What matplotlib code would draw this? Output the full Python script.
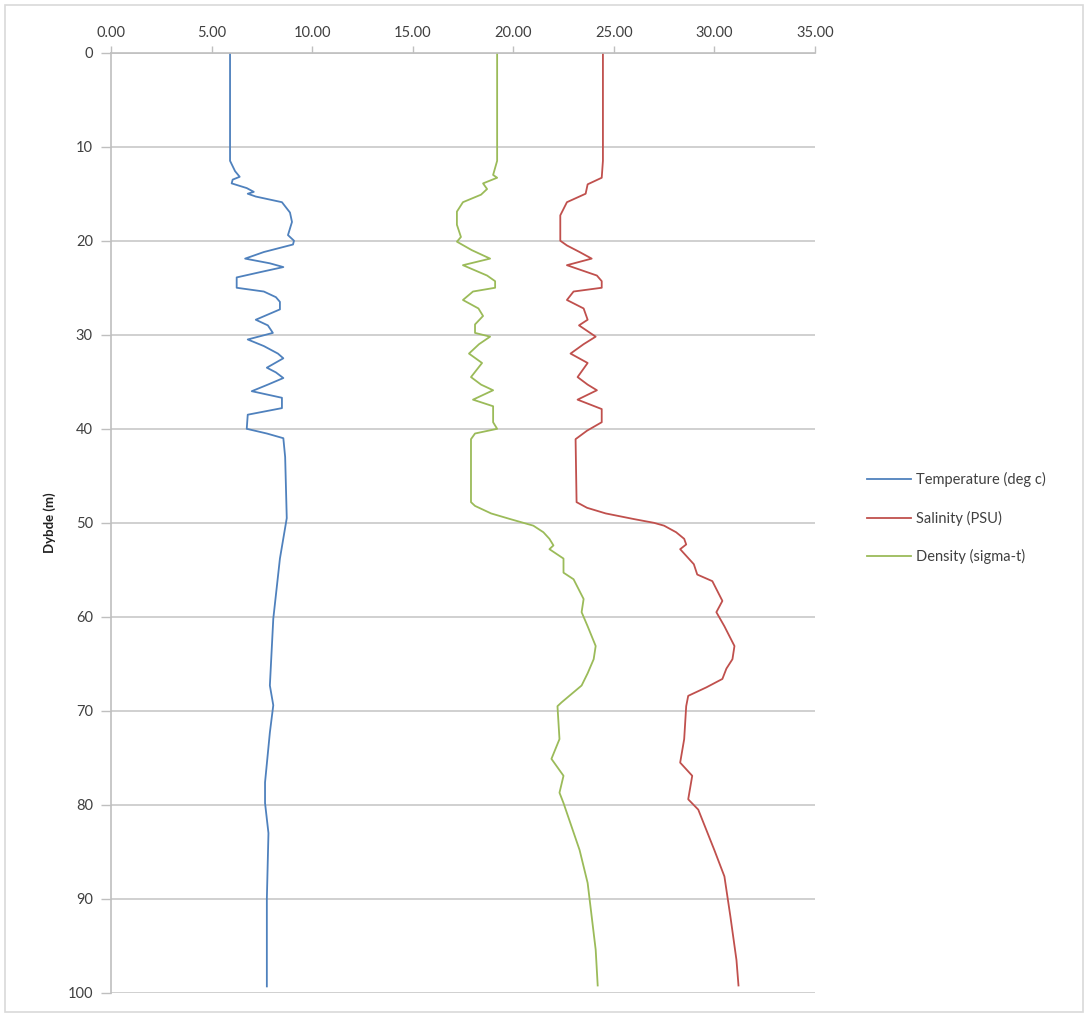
import numpy as np
import matplotlib.pyplot as plt
from matplotlib.patches import Rectangle

plt.rcParams['font.family'] = ['Lato', 'DejaVu Sans']

# CTD profile
temp_depth = [0, 8, 11.5, 12.6, 13.2, 13.5, 13.9, 14.4, 14.8, 15.0, 15.3, 15.9, 17.0, 18.0,
              19.4, 20.0, 20.4, 21.2, 21.9, 22.4, 22.8, 23.3, 23.9, 25.0, 25.4, 26.0, 26.5,
              27.3, 28.4, 29.0, 29.8, 30.5, 31.2, 32.0, 32.5, 33.5, 34.0, 34.6, 35.3, 36.0,
              36.7, 37.8, 38.5, 40.0, 40.5, 41.0, 43.0, 49.5, 53.8, 60.2, 67.3, 69.4, 72.3,
              77.6, 79.8, 83.0, 90.0, 99.3]
temp = [5.92, 5.92, 5.92, 6.17, 6.4, 6.05, 6.0, 6.75, 7.1, 6.8, 7.2, 8.5, 8.9, 9.0,
        8.8, 9.1, 9.05, 7.6, 6.67, 7.9, 8.57, 7.5, 6.25, 6.25, 7.6, 8.2, 8.4,
        8.4, 7.2, 7.8, 8.05, 6.8, 7.6, 8.3, 8.57, 7.75, 8.2, 8.57, 7.8, 7.0,
        8.5, 8.5, 6.8, 6.75, 7.75, 8.57, 8.66, 8.74, 8.4, 8.07, 7.9, 8.07, 7.9,
        7.66, 7.66, 7.83, 7.75, 7.75]

sal_depth = [0, 11.5, 13.3, 14.0, 15.0, 15.9, 17.3, 20.0, 20.5, 21.2, 21.9, 22.6, 23.7, 24.3,
             25.0, 25.4, 26.3, 27.2, 28.4, 29.0, 30.2, 31.0, 32.0, 33.0, 34.5, 35.3, 35.9,
             36.9, 37.9, 39.3, 40.2, 41.1, 47.8, 48.4, 49.0, 49.6, 50.0, 50.3, 51.0, 51.7,
             52.3, 52.8, 54.4, 55.5, 56.2, 58.3, 59.5, 61.0, 63.1, 64.5, 65.5, 66.6, 67.5,
             68.4, 69.5, 73.0, 75.5, 76.9, 79.4, 80.5, 84.8, 87.6, 91.9, 96.5, 99.2]
sal = [24.46, 24.46, 24.4, 23.7, 23.6, 22.67, 22.34, 22.34, 22.67, 23.3, 23.9, 22.67, 24.16, 24.4,
       24.4, 23.0, 22.67, 23.5, 23.7, 23.27, 24.1, 23.5, 22.85, 23.7, 23.2, 23.7, 24.16,
       23.2, 24.4, 24.4, 23.67, 23.1, 23.15, 23.67, 24.6, 26.0, 27.0, 27.5, 28.1, 28.5,
       28.6, 28.3, 28.98, 29.15, 29.9, 30.4, 30.1, 30.5, 31.0, 30.9, 30.6, 30.4, 29.6,
       28.7, 28.6, 28.5, 28.3, 28.9, 28.7, 29.2, 30.0, 30.5, 30.8, 31.1, 31.2]

dens_depth = [0, 11.5, 13.0, 13.3, 13.9, 14.5, 15.1, 15.9, 16.9, 18.3, 19.6, 20.1, 21.0, 21.9,
              22.6, 23.7, 24.3, 25.0, 25.4, 26.3, 27.2, 28.0, 28.9, 29.8, 30.2, 31.0, 32.0,
              33.0, 34.5, 35.3, 35.9, 36.9, 37.6, 39.3, 40.0, 40.5, 41.1, 47.8, 48.2, 49.0,
              49.6, 50.3, 51.0, 51.7, 52.4, 52.8, 53.8, 55.3, 56.0, 58.1, 59.5, 61.0, 63.1,
              64.5, 66.0, 67.3, 68.2, 69.1, 69.5, 73.0, 75.1, 76.9, 78.7, 79.8, 84.8, 88.3,
              95.4, 99.2]
dens = [19.2, 19.2, 19.0, 19.2, 18.5, 18.7, 18.4, 17.5, 17.2, 17.2, 17.4, 17.2, 17.94, 18.85,
        17.5, 18.7, 19.1, 19.1, 18.0, 17.5, 18.27, 18.5, 18.1, 18.1, 18.85, 18.3, 17.8,
        18.45, 17.9, 18.4, 19.0, 18.0, 19.0, 19.0, 19.2, 18.1, 17.9, 17.9, 18.1, 18.9,
        19.85, 21.0, 21.5, 21.8, 22.0, 21.8, 22.5, 22.5, 23.0, 23.5, 23.4, 23.7, 24.1,
        24.0, 23.7, 23.4, 22.9, 22.4, 22.2, 22.3, 21.9, 22.5, 22.3, 22.5, 23.3, 23.7,
        24.1, 24.2]

x_ticks = [0, 5, 10, 15, 20, 25, 30, 35]
y_ticks = [0, 10, 20, 30, 40, 50, 60, 70, 80, 90, 100]

txt = '#404040'
fig = plt.figure(figsize=(10.88, 10.17), dpi=100)
ax = fig.add_axes([0.102, 0.0236, 0.647, 0.9246])

ax.plot(temp, temp_depth, color='#4f81bd', lw=1.3, label='Temperature (deg c)')
ax.plot(sal, sal_depth, color='#c0504d', lw=1.3, label='Salinity (PSU)')
ax.plot(dens, dens_depth, color='#9bbb59', lw=1.3, label='Density (sigma-t)')

ax.set_xlim(0, 35)
ax.set_ylim(100, 0)
ax.xaxis.tick_top()
ax.set_xticks(x_ticks)
ax.set_xticklabels(['%.2f' % v for v in x_ticks])
ax.set_yticks(y_ticks)
ax.yaxis.grid(True, color='#d0d0d0', lw=1.4)
ax.set_axisbelow(True)
ax.tick_params(axis='both', colors='#bfbfbf', labelcolor=txt, labelsize=10.5, length=5, width=1)
ax.tick_params(axis='x', pad=4)
ax.tick_params(axis='y', length=7, pad=6)
for s in ['right', 'bottom']:
    ax.spines[s].set_visible(False)
for s in ['left', 'top']:
    ax.spines[s].set_color('#bfbfbf')
    ax.spines[s].set_linewidth(1.2)

ax.set_ylabel('Dybde (m)', fontsize=9.5, fontweight='bold', color='#202020', labelpad=8)

ax.legend(loc='center left', bbox_to_anchor=(1.055, 0.505), frameon=False, fontsize=10.5,
          labelspacing=1.6, handlelength=3.0, handletextpad=0.4, labelcolor=txt)

fig.patches.append(Rectangle((0.005, 0.005), 0.99, 0.99, transform=fig.transFigure,
                             fill=False, edgecolor='#d9d9d9', lw=1.2))

fig.savefig('out.png', dpi=100)
